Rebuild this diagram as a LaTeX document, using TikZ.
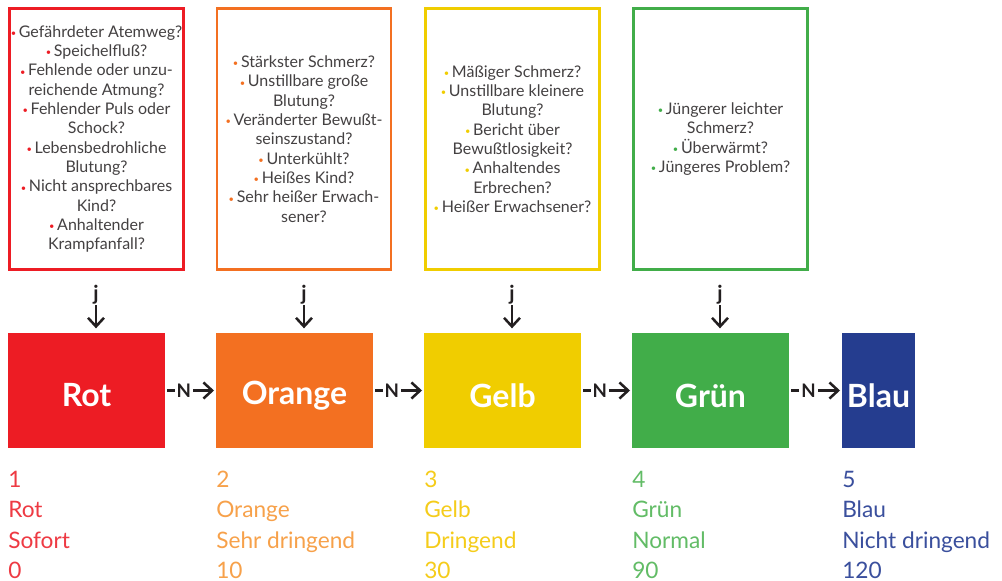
\documentclass[tikz,border=0pt]{standalone}
\usepackage{fontspec}
\setmainfont{Lato}
\usetikzlibrary{arrows.meta}
\definecolor{cred}{HTML}{ED1C24}
\definecolor{corange}{HTML}{F37021}
\definecolor{cyellow}{HTML}{F0CD00}
\definecolor{cgreen}{HTML}{41AD49}
\definecolor{cblue}{HTML}{253D8F}
\definecolor{tred}{HTML}{EE3A43}
\definecolor{torange}{HTML}{F7A14A}
\definecolor{tyellow}{HTML}{F5CC1A}
\definecolor{tgreen}{HTML}{62BC66}
\definecolor{tblue}{HTML}{3A4F9D}
\definecolor{ink}{HTML}{231F20}
\newcommand{\bul}[1]{\textcolor{#1}{\scriptsize\raisebox{0.15ex}{•}}\,}
\newcommand{\clab}[1]{\raisebox{-3.75pt}[\height][\depth]{#1}}
\begin{document}
\begin{tikzpicture}[x=0.75pt,y=-0.75pt,
  qbox/.style={draw=#1, line width=2.2pt, fill=white, inner sep=0pt, outer sep=0pt,
    minimum width=130.5pt, minimum height=195.75pt, align=center, text=ink!85,
    font=\fontsize{12}{14.5}\selectfont},
  cbox/.style={fill=#1, inner sep=0pt, outer sep=0pt, minimum width=117.75pt,
    minimum height=86.25pt, text=white, font=\fontsize{24}{28}\selectfont\bfseries},
  lbl/.style={inner sep=1.5pt, fill=white, text=ink, font=\fontsize{14}{16}\selectfont\bfseries},
  arr/.style={draw=ink, line width=1.9pt, -{Straight Barb[length=6.5pt,width=12pt,line width=1.9pt]}},
  btxt/.style={anchor=base west, inner sep=0pt, font=\fontsize{17}{20}\selectfont}
]
\useasboundingbox (0,0) rectangle (1002,581);
\fill[white] (0,0) rectangle (1002,581);

% question boxes
\node[qbox=cred] (q1) at (96.5,139) {%
\bul{cred}Gefährdeter Atemweg?\\
\bul{cred}Speichelfluß?\\
\bul{cred}Fehlende oder unzu-\\
reichende Atmung?\\
\bul{cred}Fehlender Puls oder\\
Schock?\\
\bul{cred}Lebensbedrohliche\\
Blutung?\\
\bul{cred}Nicht ansprechbares\\
Kind?\\
\bul{cred}Anhaltender\\
Krampfanfall?};
\node[qbox=corange] (q2) at (304,139) {%
\bul{corange}Stärkster Schmerz?\\
\bul{corange}Unstillbare große\\
Blutung?\\
\bul{corange}Veränderter Bewußt-\\
seinszustand?\\
\bul{corange}Unterkühlt?\\
\bul{corange}Heißes Kind?\\
\bul{corange}Sehr heißer Erwach-\\
sener?};
\node[qbox=cyellow] (q3) at (512.5,139) {%
\bul{cyellow}Mäßiger Schmerz?\\
\bul{cyellow}Unstillbare kleinere\\
Blutung?\\
\bul{cyellow}Bericht über\\
Bewußtlosigkeit?\\
\bul{cyellow}Anhaltendes\\
Erbrechen?\\
\bul{cyellow}Heißer Erwachsener?};
\node[qbox=cgreen] (q4) at (720.5,139) {%
\bul{cgreen}Jüngerer leichter\\
Schmerz?\\
\bul{cgreen}Überwärmt?\\
\bul{cgreen}Jüngeres Problem?};

% colour boxes
\node[cbox=cred] (rot) at (86.5,390.5) {\clab{Rot}};
\node[cbox=corange] (orange) at (294.5,390.5) {\clab{Orange}};
\node[cbox=cyellow] (gelb) at (502.5,390.5) {\clab{Gelb}};
\node[cbox=cgreen] (gruen) at (710.5,390.5) {\clab{Grün}};
\node[cbox=cblue, minimum width=54.75pt] (blau) at (878.5,390.5) {\clab{Blau}};

% j arrows
\foreach \q/\c/\x in {q1/rot/96, q2/orange/304, q3/gelb/512, q4/gruen/720}{
  \node[lbl, inner sep=0.5pt, font=\fontsize{15.5}{17}\selectfont\bfseries] (j\q) at (\x,295) {j};
  \draw[arr, shorten >=3.5pt] (j\q.south) -- (j\q.south |- \c.north);
}

% N arrows
\draw[arr, shorten <=1.5pt, shorten >=1.5pt] (rot) -- node[lbl, pos=0.37] {N} (orange);
\draw[arr, shorten <=1.5pt, shorten >=1.5pt] (orange) -- node[lbl, pos=0.37] {N} (gelb);
\draw[arr, shorten <=1.5pt, shorten >=1.5pt] (gelb) -- node[lbl, pos=0.37] {N} (gruen);
\draw[arr, shorten <=1.5pt, shorten >=1.5pt] (gruen) -- node[lbl, pos=0.37] {N} (blau);

% bottom legend
\foreach \n/\x/\c/\a/\b/\cc/\d in {
  r/8/tred/1/Rot/Sofort/0,
  o/216/torange/2/Orange/Sehr dringend/10,
  y/424/tyellow/3/Gelb/Dringend/30,
  g/632/tgreen/4/Grün/Normal/90,
  b/842/tblue/5/Blau/Nicht dringend/120}{
  \node[btxt, text=\c] (\n1) at (\x,487) {\a};
  \node[btxt, text=\c] (\n2) at (\x,517.5) {\b};
  \node[btxt, text=\c] (\n3) at (\x,548) {\cc};
  \node[btxt, text=\c] (\n4) at (\x,578) {\d};
}
\end{tikzpicture}
\end{document}
